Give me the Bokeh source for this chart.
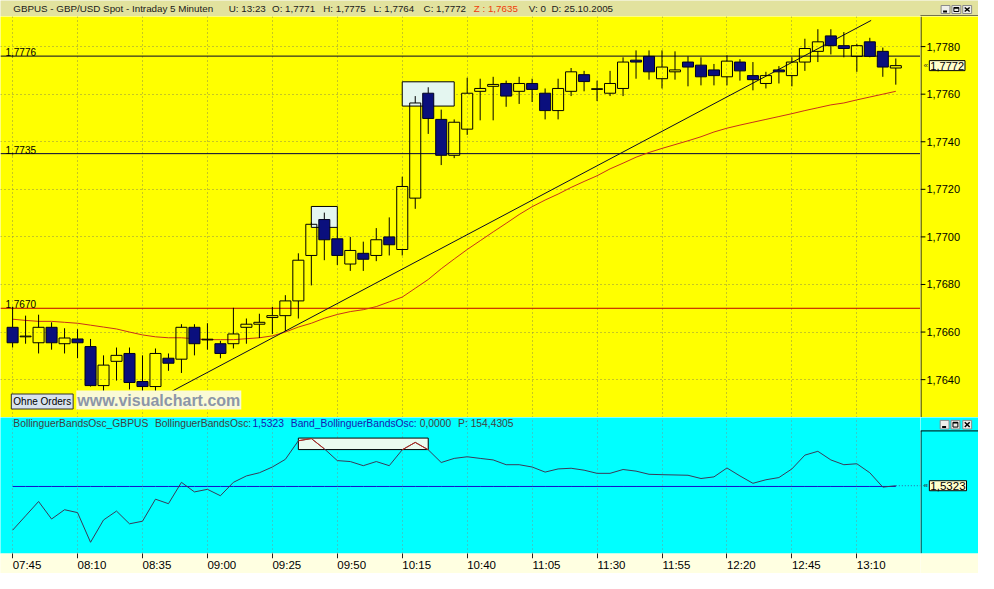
from bokeh.plotting import figure
from bokeh.layouts import column, row
from bokeh.models import (Range1d, FixedTicker, Span, Label, ColumnDataSource, LinearAxis)
from bokeh.core.properties import value
from bokeh.embed import file_html
from bokeh.resources import INLINE

# ---------------------------------------------------------------- data
bar_idx = list(range(69))           # 5-minute bars, 07:45 ... 13:25

opens = [1.76620, 1.76580, 1.76555, 1.76620, 1.76551, 1.76571, 1.76539, 1.76375, 1.76477, 1.76510,
         1.76392, 1.76371, 1.76490, 1.76486, 1.76620, 1.76567, 1.76551, 1.76551, 1.76620, 1.76633,
         1.76661, 1.76669, 1.76731, 1.76922, 1.77073, 1.76992, 1.76886, 1.76931, 1.76922, 1.77000,
         1.76947, 1.77163, 1.77604, 1.77494, 1.77343, 1.77453, 1.77612, 1.77633, 1.77645, 1.77612,
         1.77645, 1.77604, 1.77531, 1.77612, 1.77682, 1.77620, 1.77604, 1.77624, 1.77743, 1.77759,
         1.77665, 1.77694, 1.77735, 1.77722, 1.77702, 1.77673, 1.77735, 1.77678, 1.77645, 1.77702,
         1.77678, 1.77735, 1.77780, 1.77845, 1.77804, 1.77759, 1.77820, 1.77780, 1.77710]

highs = [1.76706, 1.76669, 1.76673, 1.76641, 1.76616, 1.76612, 1.76571, 1.76502, 1.76535, 1.76535,
         1.76502, 1.76531, 1.76510, 1.76633, 1.76633, 1.76637, 1.76563, 1.76702, 1.76657, 1.76677,
         1.76706, 1.76755, 1.76931, 1.77061, 1.77102, 1.77041, 1.77000, 1.76980, 1.77037, 1.77082,
         1.77253, 1.77592, 1.77629, 1.77535, 1.77494, 1.77669, 1.77665, 1.77673, 1.77657, 1.77673,
         1.77665, 1.77624, 1.77665, 1.77710, 1.77698, 1.77657, 1.77698, 1.77755, 1.77784, 1.77784,
         1.77784, 1.77780, 1.77759, 1.77755, 1.77727, 1.77763, 1.77747, 1.77735, 1.77694, 1.77718,
         1.77755, 1.77833, 1.77873, 1.77873, 1.77861, 1.77812, 1.77837, 1.77796, 1.77750]

lows = [1.76535, 1.76551, 1.76510, 1.76526, 1.76510, 1.76490, 1.76371, 1.76347, 1.76396, 1.76359,
        1.76331, 1.76331, 1.76437, 1.76428, 1.76502, 1.76526, 1.76490, 1.76531, 1.76551, 1.76575,
        1.76592, 1.76604, 1.76657, 1.76796, 1.76902, 1.76882, 1.76857, 1.76857, 1.76898, 1.76922,
        1.76922, 1.77118, 1.77433, 1.77302, 1.77331, 1.77429, 1.77490, 1.77490, 1.77547, 1.77559,
        1.77567, 1.77494, 1.77494, 1.77592, 1.77612, 1.77571, 1.77592, 1.77592, 1.77665, 1.77661,
        1.77624, 1.77661, 1.77633, 1.77637, 1.77637, 1.77637, 1.77657, 1.77616, 1.77624, 1.77645,
        1.77633, 1.77698, 1.77735, 1.77767, 1.77755, 1.77694, 1.77755, 1.77673, 1.77640]

closes = [1.76555, 1.76583, 1.76620, 1.76555, 1.76575, 1.76555, 1.76375, 1.76461, 1.76502, 1.76388,
          1.76371, 1.76510, 1.76469, 1.76620, 1.76551, 1.76570, 1.76510, 1.76592, 1.76633, 1.76641,
          1.76669, 1.76731, 1.76902, 1.77053, 1.76988, 1.76922, 1.76943, 1.76906, 1.76988, 1.76967,
          1.77212, 1.77563, 1.77498, 1.77343, 1.77482, 1.77604, 1.77624, 1.77641, 1.77592, 1.77645,
          1.77620, 1.77531, 1.77624, 1.77694, 1.77653, 1.77623, 1.77645, 1.77735, 1.77735, 1.77694,
          1.77714, 1.77702, 1.77714, 1.77673, 1.77678, 1.77739, 1.77698, 1.77661, 1.77678, 1.77694,
          1.77735, 1.77792, 1.77820, 1.77804, 1.77792, 1.77804, 1.77759, 1.77714, 1.77720]

ma_vals = [1.76654, 1.76649, 1.76645, 1.76645, 1.76641, 1.76637, 1.76629, 1.76621, 1.76613, 1.76600,
           1.76588, 1.76580, 1.76576, 1.76576, 1.76572, 1.76568, 1.76568, 1.76568, 1.76572, 1.76576,
           1.76584, 1.76600, 1.76621, 1.76637, 1.76658, 1.76674, 1.76686, 1.76694, 1.76707, 1.76727,
           1.76747, 1.76784, 1.76821, 1.76866, 1.76907, 1.76947, 1.76984, 1.77021, 1.77057, 1.77094,
           1.77127, 1.77155, 1.77180, 1.77208, 1.77233, 1.77257, 1.77286, 1.77310, 1.77335, 1.77355,
           1.77372, 1.77388, 1.77404, 1.77421, 1.77441, 1.77457, 1.77470, 1.77482, 1.77494, 1.77506,
           1.77518, 1.77531, 1.77543, 1.77555, 1.77563, 1.77576, 1.77588, 1.77600, 1.77612]

osc_vals = [-91.4, -61.4, -31.4, -68.0, -48.6, -54.6, -116.6, -70.0, -51.4, -78.0,
            -72.6, -26.6, -36.0, 8.6, -11.4, -6.0, -19.4, 8.6, 22.0, 28.6,
            40.6, 56.6, 95.4, 100.0, 78.6, 54.0, 52.0, 43.4, 52.0, 43.4,
            76.6, 92.0, 76.6, 50.0, 58.6, 62.0, 58.6, 55.4, 45.4, 45.4,
            40.6, 30.0, 36.6, 38.0, 34.0, 27.4, 27.4, 35.4, 32.0, 25.4,
            24.6, 24.0, 23.4, 16.6, 20.0, 38.6, 22.0, 6.6, 14.0, 18.6,
            36.6, 65.4, 73.4, 55.4, 45.4, 47.4, 28.6, -1.4, 1.5323]

band_vals = [0.0] * len(bar_idx)     # Band_BollinguerBandsOsc: 0,0000

tick_labels = ["07:45", "08:10", "08:35", "09:00", "09:25", "09:50", "10:15",
               "10:40", "11:05", "11:30", "11:55", "12:20", "12:45", "13:10"]
bars_per_tick = 5
price_ticks = [1.7640, 1.7660, 1.7680, 1.7700, 1.7720, 1.7740, 1.7760, 1.7780]

level_prices = [1.7776, 1.7735, 1.7670]
level_colors = ["#00002a", "#000040", "#c00000"]

trend_x = [11.57, 66.10]
trend_y = [1.76331, 1.77910]

box_left = [23, 30]
box_right = [25, 34]
box_top = [1.77128, 1.77652]
box_bottom = [1.77040, 1.77550]

osc_box_left = [22]
osc_box_right = [32]
osc_box_top = [101.0]
osc_box_bottom = [77.0]
osc_red_runs = [(22, 24), (30, 32)]

title_parts = ["GBPUS - GBP/USD Spot - Intraday 5 Minuten", "U: 13:23",
               "O: {o}", "H: {h}", "L: {l}", "C: {c}", "Z : 1,7635", "V: 0", "D: 25.10.2005"]

# ---------------------------------------------------------------- layout helpers
def fmt4(v):
    return f"{v:.4f}".replace(".", ",")

W = 978
H_TITLE, H_MAIN, H_OSC = 16, 401, 156
RIGHT = 58
FRAME_W = W - RIGHT
SX = 978 / 994
FONT = "Liberation Sans"

REF_X0, REF_DX = 12.3, 13.2          # reference pixel of bar 0 / pixels per bar
REF_AXIS = 935                       # reference pixel of the scale column edge
LABEL_SHIFT = 1.11                   # half a time label, in bars (labels start at their tick)


def ix(ref_x):
    return (ref_x - REF_X0) / REF_DX


def rx(ref_x):                       # position inside the right-hand scale column
    return (ref_x - REF_AXIS) * SX


def py(ref_y):
    return 1.7780 - (ref_y - 47) * 0.002 / 49


def oy(ref_y):
    return (501 - ref_y) * 2.0


X0, X_MAIN = ix(0), ix(REF_AXIS)

YEL = "#FFFF00"
CYAN = "#00FFFF"
CREAM = "#FFFFE1"
TBAR = "#E2E29E"
NAVY = "#0A0F7D"
tick_pos = [i * bars_per_tick for i in range(len(tick_labels))]


def bare(fig):
    fig.grid.visible = False
    return fig


def draw_buttons(fig, lefts, top, bottom, fx, fy):
    w = 9
    fig.quad(left=[fx(l) for l in lefts], right=[fx(l + w) for l in lefts],
             top=[fy(top)] * len(lefts), bottom=[fy(bottom)] * len(lefts),
             fill_color="#EFEFEA", line_color="#8A8A8A", line_width=1)
    l0, l1, l2 = lefts
    fig.segment(x0=[fx(l0 + 2)], y0=[fy(bottom - 2)], x1=[fx(l0 + 6)], y1=[fy(bottom - 2)],
                line_color="black", line_width=2)
    fig.quad(left=[fx(l1 + 2)], right=[fx(l1 + 7)], top=[fy(top + 2)], bottom=[fy(bottom - 2)],
             fill_color=None, line_color="black", line_width=1)
    fig.segment(x0=[fx(l1 + 2)], y0=[fy(top + 2.5)], x1=[fx(l1 + 7)], y1=[fy(top + 2.5)],
                line_color="black", line_width=1.5)
    fig.segment(x0=[fx(l2 + 2), fx(l2 + 2)], y0=[fy(top + 2), fy(bottom - 2)],
                x1=[fx(l2 + 7), fx(l2 + 7)], y1=[fy(bottom - 2), fy(top + 2)],
                line_color="black", line_width=1.5)


COMMON = dict(toolbar_location=None, output_backend="svg", x_axis_location=None,
              y_axis_location=None, min_border_left=0, min_border_right=0,
              min_border_top=0, min_border_bottom=0, outline_line_color=None)

# ---------------------------------------------------------------- title bar
t = bare(figure(width=W, height=H_TITLE, x_range=Range1d(0, 994), y_range=Range1d(16, 0),
                background_fill_color=TBAR, border_fill_color=TBAR, **COMMON))
title_text = [s.format(o=fmt4(opens[-1]), h=fmt4(highs[-1]), l=fmt4(lows[-1]), c=fmt4(closes[-1]))
              for s in title_parts]
title_x = [13, 232, 276, 328, 379, 430, 481, 537, 560]
title_col = ["#1a1a1a"] * 6 + ["#F03C0A"] + ["#1a1a1a"] * 2
t.text(x=title_x, y=[8] * len(title_x), text=title_text, text_color=title_col,
       text_font=value(FONT), text_font_size="9.8px", text_baseline="middle", text_align="left")
draw_buttons(t, [956, 967, 978], 5, 13, lambda v: v, lambda v: v)
t.segment(x0=[REF_AXIS], y0=[15.5], x1=[994], y1=[15.5], line_color="black", line_width=1)

# ---------------------------------------------------------------- price panel
p = figure(width=FRAME_W, height=H_MAIN, x_range=Range1d(X0, X_MAIN),
           y_range=Range1d(py(429), py(16)),
           background_fill_color=YEL, border_fill_color=YEL, **COMMON)
p.xgrid.ticker = FixedTicker(ticks=tick_pos)
p.ygrid.ticker = FixedTicker(ticks=price_ticks)
for g in (p.xgrid, p.ygrid):
    g.grid_line_color = "#8C8C46"
    g.grid_line_dash = "1 3"
    g.grid_line_width = 1

# marker boxes
p.quad(left=box_left, right=box_right, top=box_top, bottom=box_bottom,
       fill_color="#E4F6F0", line_color="black", line_width=1)

# horizontal price levels
for lvl, col in zip(level_prices, level_colors):
    p.add_layout(Span(location=lvl, dimension="width", line_color=col, line_width=1,
                      level="underlay"))
p.text(x=[ix(5)] * len(level_prices), y=level_prices, text=[fmt4(v) for v in level_prices],
       text_font=value(FONT), text_font_size="10px", text_color="black",
       text_baseline="alphabetic", text_align="left", y_offset=-4)

# moving average and trend line
p.line(bar_idx, ma_vals, line_color="#C8321A", line_width=1)
p.line(trend_x, trend_y, line_color="#0a0a2a", line_width=1)

# candles
body_top = [max(a, b) for a, b in zip(opens, closes)]
body_bot = [min(a, b) for a, b in zip(opens, closes)]
src = ColumnDataSource(dict(x=bar_idx, high=highs, low=lows, top=body_top, bot=body_bot))
p.segment("x", "high", "x", "top", source=src, line_color="black", line_width=1)
p.segment("x", "bot", "x", "low", source=src, line_color="black", line_width=1)
up = [i for i in bar_idx if closes[i] >= opens[i]]
dn = [i for i in bar_idx if closes[i] < opens[i]]
p.vbar(x=up, width=0.85, top=[body_top[i] for i in up], bottom=[body_bot[i] for i in up],
       fill_color=None, line_color="black", line_width=1)
p.vbar(x=dn, width=0.85, top=[body_top[i] for i in dn], bottom=[body_bot[i] for i in dn],
       fill_color=NAVY, line_color="#000020", line_width=1)

# watermark + button
p.add_layout(Label(x=77 * SX, y=8, x_units="screen", y_units="screen",
                   text="www.visualchart.com", text_font=FONT, text_font_size="16px",
                   text_font_style="bold", text_color="#8C96A8", text_baseline="bottom",
                   text_align="left", background_fill_color="#FAFAD6", padding=1))
p.add_layout(Label(x=11 * SX, y=8.5, x_units="screen", y_units="screen",
                   text="Ohne Orders", text_font=FONT, text_font_size="10px",
                   text_color="black", text_baseline="bottom", text_align="left",
                   background_fill_color="#D8E2EE", border_line_color="#303030", padding=2))

# ---------------------------------------------------------------- price scale column
pr = bare(figure(width=RIGHT, height=H_MAIN, x_range=Range1d(0, RIGHT), y_range=p.y_range,
                 background_fill_color=YEL, border_fill_color=YEL, **COMMON))
pr.segment(x0=[0.5], y0=[py(429)], x1=[0.5], y1=[py(16)], line_color="black", line_width=1)
pr.segment(x0=[0] * len(price_ticks), y0=price_ticks, x1=[rx(940)] * len(price_ticks),
           y1=price_ticks, line_color="black", line_width=1)
pr.text(x=[rx(941)] * len(price_ticks), y=price_ticks, text=[fmt4(v) for v in price_ticks],
        text_font=value(FONT), text_font_size="11px", text_color="black",
        text_baseline="middle", text_align="left")
pr.add_layout(Label(x=rx(944), y=closes[-1], text=fmt4(closes[-1]), text_font=FONT,
                    text_font_size="11px", text_color="black", text_baseline="middle",
                    text_align="left", background_fill_color="#FFFFCC",
                    border_line_color="black", padding=1))
pr.text(x=[rx(938)], y=[closes[-1]], text=["«"], text_font=value(FONT), text_font_size="8px",
        text_color="#303030", text_baseline="middle", text_align="left")

# ---------------------------------------------------------------- oscillator panel
o = figure(width=FRAME_W, height=H_OSC, x_range=Range1d(X0, X_MAIN),
           y_range=Range1d(oy(571), oy(429)),
           background_fill_color=CYAN, border_fill_color=CREAM, **COMMON)
o.ygrid.visible = False
o.xgrid.ticker = FixedTicker(ticks=tick_pos)
o.xgrid.grid_line_color = "#6A9A9A"
o.xgrid.grid_line_dash = "1 3"


def time_axes(tick_at, label_at, labels, tick_color):
    a1 = LinearAxis(ticker=FixedTicker(ticks=tick_at),
                    major_label_overrides={v: "" for v in tick_at},
                    major_label_text_font_size="1px", major_label_standoff=0,
                    major_tick_out=5, major_tick_in=0, minor_tick_out=0, minor_tick_in=0,
                    major_tick_line_color=tick_color, axis_line_color=None)
    a2 = LinearAxis(ticker=FixedTicker(ticks=label_at),
                    major_label_overrides=dict(zip(label_at, labels)),
                    major_label_text_font=FONT, major_label_text_font_size="11.5px",
                    major_label_text_color="black", major_label_standoff=0,
                    major_tick_out=0, major_tick_in=0, minor_tick_out=0, minor_tick_in=0,
                    major_tick_line_color=None, axis_line_color=None)
    for a_ in (a1, a2):
        try:
            a_.background_fill_color = CREAM
        except AttributeError:
            pass
    return a1, a2


lab_pos = [v + LABEL_SHIFT for v in tick_pos]
for a_ in time_axes(tick_pos, lab_pos, tick_labels, "#202020"):
    o.add_layout(a_, "below")

o.quad(left=osc_box_left, right=osc_box_right, top=osc_box_top, bottom=osc_box_bottom,
       fill_color="#EAFBEF", line_color="black", line_width=1)
o.line(bar_idx, band_vals, line_color="#1010C8", line_width=1)
o.line(bar_idx, osc_vals, line_color="#3A3A58", line_width=1)
for a, b in osc_red_runs:
    o.line(bar_idx[a:b + 1], osc_vals[a:b + 1], line_color="#C02818", line_width=1)
o.segment(x0=[bar_idx[-1]], y0=[osc_vals[-1]], x1=[X_MAIN], y1=[osc_vals[-1]],
          line_color="#3060A0", line_dash="1 2", line_width=1)

osc_title = ["BollinguerBandsOsc_GBPUS", "BollinguerBandsOsc:", fmt4(osc_vals[-1]),
             "Band_BollinguerBandsOsc:", fmt4(band_vals[-1]), "P: 154,4305"]
o.text(x=[ix(13), ix(157), ix(256), ix(295), ix(426), ix(465)], y=[oy(435)] * 6,
       text=osc_title,
       text_color=["#404040", "#404040", "#1818B0", "#1818B0", "#404040", "#404040"],
       text_font=value(FONT), text_font_size="10.3px", text_baseline="middle", text_align="left")

# ---------------------------------------------------------------- oscillator scale column
orr = bare(figure(width=RIGHT, height=H_OSC, x_range=Range1d(0, RIGHT), y_range=o.y_range,
                  background_fill_color=CYAN, border_fill_color=CREAM, **COMMON))
for a_ in time_axes([RIGHT / 2], [RIGHT / 2], [" "], None):
    orr.add_layout(a_, "below")
orr.segment(x0=[0.5, 0], y0=[oy(571), oy(443)], x1=[0.5, RIGHT], y1=[oy(443), oy(443)],
            line_color="black", line_width=1)
orr.segment(x0=[0], y0=[osc_vals[-1]], x1=[rx(942)], y1=[osc_vals[-1]],
            line_color="#3060A0", line_dash="1 2", line_width=1)
draw_buttons(orr, [955, 966, 978], 432, 441, rx, oy)
orr.add_layout(Label(x=rx(944), y=osc_vals[-1], text=fmt4(osc_vals[-1]), text_font=FONT,
                     text_font_size="11.5px", text_color="black", text_baseline="middle",
                     text_align="left", background_fill_color="#FFFFCC",
                     border_line_color="black", padding=1))
orr.text(x=[rx(938)], y=[osc_vals[-1]], text=["«"], text_font=value(FONT), text_font_size="8px",
         text_color="#303030", text_baseline="middle", text_align="left")

layout = column(t, row(p, pr, spacing=0), row(o, orr, spacing=0), spacing=0)
open("out.html", "w").write(file_html(layout, INLINE))
